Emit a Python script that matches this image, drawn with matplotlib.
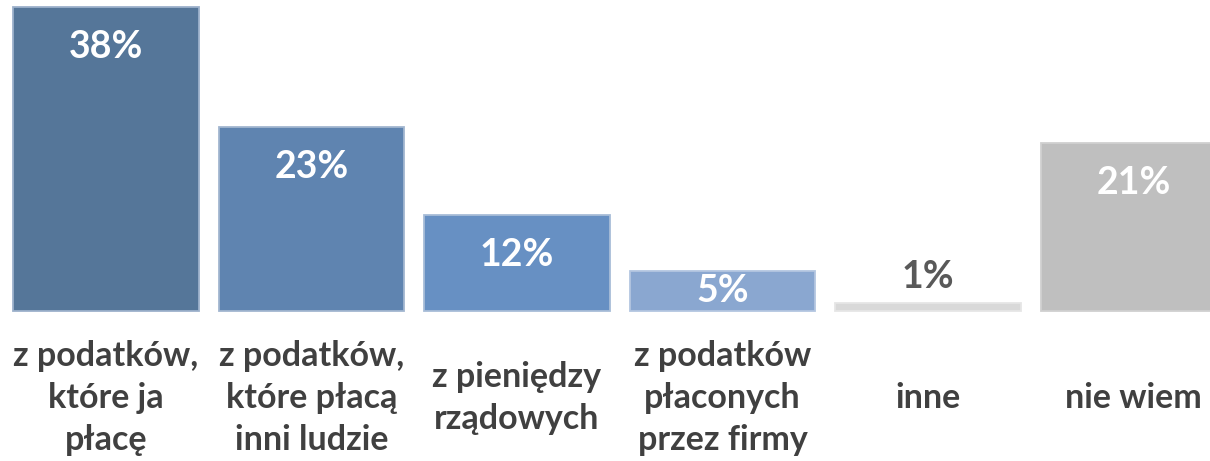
import matplotlib
matplotlib.use("Agg")
import matplotlib.pyplot as plt

categories = ["z podatków,\nktóre ja\npłacę", "z podatków,\nktóre płacą\ninni ludzie",
              "z pieniędzy\nrządowych", "z podatków\npłaconych\nprzez firmy", "inne", "nie wiem"]
values = [38, 23, 12, 5, 1, 21]
labels = ["38%", "23%", "12%", "5%", "1%", "21%"]
colors = ["#557699", "#5f84b0", "#6790c3", "#8aa7d0", "#d9d9d9", "#bfbfbf"]
edges = ["#9db1cb", "#a2b6d0", "#a8bdd8", "#b3c6e0", "#e6e6e6", "#d0d0d0"]

plt.rcParams['font.family'] = ['Lato', 'DejaVu Sans']
W, H = 1210, 461
fig = plt.figure(figsize=(W / 100, H / 100), dpi=100)
base_px = 311
ax = fig.add_axes([0, (H - base_px) / H, 1, base_px / H])
ppu = 8.0  # pixels per percent
step = 205.5
c0 = 106
ax.set_xlim(-c0 / step, (W - c0) / step)
ax.set_ylim(0, base_px / ppu)
ax.axis('off')

x = list(range(len(values)))
bars = ax.bar(x, values, width=0.905, color=colors, edgecolor=edges, linewidth=1.3, clip_on=False)

pt = 72 / 100
for xi, v, lab in zip(x, values, labels):
    hpx = v * ppu
    if hpx > 80:
        ax.annotate(lab, (xi, v), xytext=(0, -40 * pt), textcoords='offset points',
                    ha='center', va='center', color='white', fontsize=27, fontweight='bold')
    elif hpx > 25:
        ax.annotate(lab, (xi, v / 2), xytext=(0, 0), textcoords='offset points',
                    ha='center', va='center', color='white', fontsize=27, fontweight='bold')
    else:
        ax.annotate(lab, (xi, v), xytext=(0, 26 * pt), textcoords='offset points',
                    ha='center', va='center', color='#595959', fontsize=27, fontweight='bold')

for xi, cat in zip(x, categories):
    ax.annotate(cat, (xi, 0), xytext=(0, -87 * pt), textcoords='offset points',
                ha='center', va='center', multialignment='center', color='#404040',
                fontsize=24.5, fontweight='bold', linespacing=1.38, annotation_clip=False)

fig.savefig("out.png", dpi=100)
